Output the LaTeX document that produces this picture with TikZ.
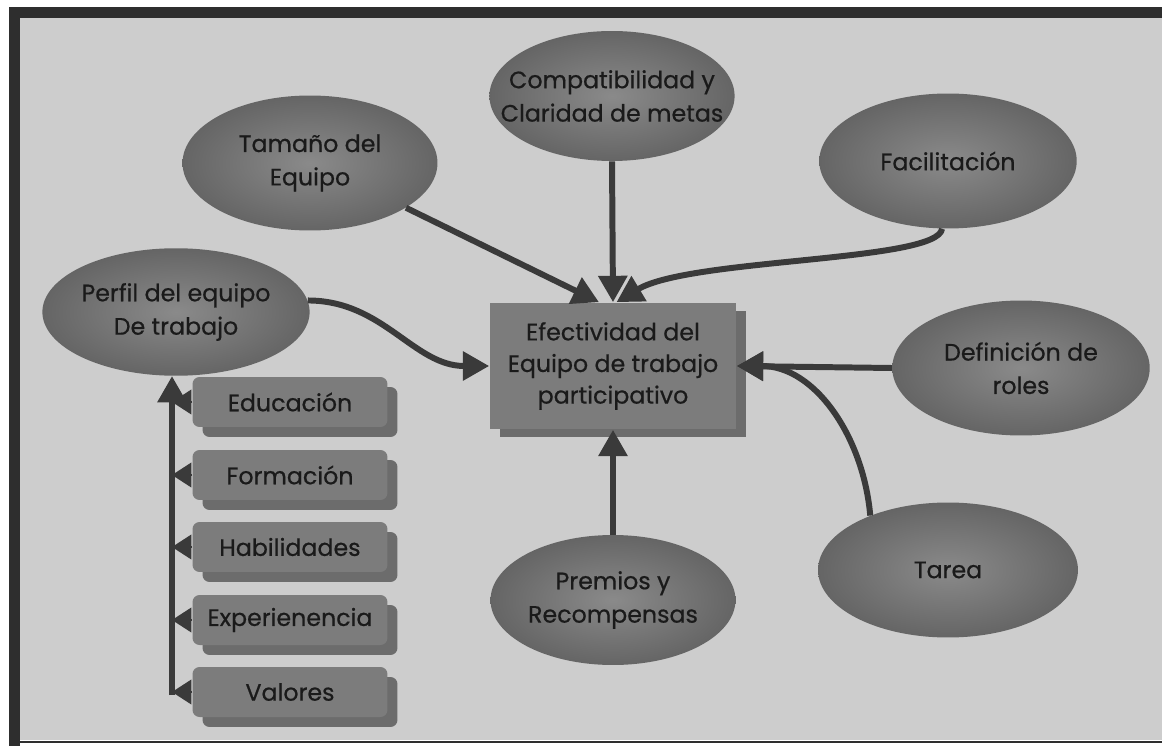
\documentclass[tikz,border=0pt]{standalone}
\usepackage{fontspec}
\setmainfont{Poppins}[FakeBold=0.6]
\usetikzlibrary{shapes.geometric,arrows.meta,shadows}

\definecolor{fondo}{HTML}{CDCDCD}
\definecolor{marco}{HTML}{2E2E2E}
\definecolor{elclaro}{HTML}{8A8A8A}
\definecolor{eloscuro}{HTML}{656565}
\definecolor{cajagris}{HTML}{7C7C7C}
\definecolor{sombragris}{HTML}{6C6C6C}
\definecolor{flecha}{HTML}{3A3A3A}
\definecolor{letra}{HTML}{1A1A1A}

\tikzset{
  idea/.style={ellipse, minimum width=5.1cm, minimum height=2.7cm, inner sep=0pt,
    shade, inner color=elclaro, outer color=eloscuro, text=letra, align=center,
    font=\fontsize{13.5}{19}\selectfont},
  centro/.style={rectangle, minimum width=4.94cm, minimum height=2.54cm, fill=cajagris,
    text=letra, align=center, font=\fontsize{13.5}{18}\selectfont,
    copy shadow={shadow xshift=0.2cm, shadow yshift=-0.16cm, fill=sombragris, draw=none}},
  factor/.style={rectangle, rounded corners=4pt, minimum width=3.9cm, minimum height=1cm,
    fill=cajagris, text=letra, font=\fontsize{13.5}{15}\selectfont,
    copy shadow={shadow xshift=0.2cm, shadow yshift=-0.2cm, fill=sombragris, draw=none}},
  arr/.style={draw=flecha, line width=3.4pt, -{Triangle[width=16pt,length=15pt]}},
  punta/.style={draw=flecha, line width=1pt, -{Triangle[width=14pt,length=11pt]}}
}

\begin{document}
\begin{tikzpicture}[x=0.02cm, y=-0.02cm]
\useasboundingbox (0,0) rectangle (1162,746);
\fill[marco] (9,7) rectangle (1162,18);
\fill[marco] (9,7) rectangle (20,746);
\fill[fondo] (20,18) rectangle (1162,740);
\draw[marco, line width=1pt] (20,742) -- (1162,742);

\node[idea, minimum width=4.9cm, minimum height=2.6cm, inner xsep=-14pt] (compat) at (612,96) {Compatibilidad y\\Claridad de metas};
\node[idea] (tamano) at (310,163) {Tamaño del\\Equipo};
\node[idea, minimum width=5.15cm] (facil) at (948,161) {Facilitación};
\node[idea, minimum width=5.15cm, minimum height=2.55cm] (perfil) at (176,312) {Perfil del equipo\\De trabajo};
\node[idea, minimum width=5.15cm] (defin) at (1021,368) {Definición de\\roles};
\node[idea, minimum width=5.2cm] (tarea) at (948,570) {Tarea};
\node[idea, minimum width=4.9cm, minimum height=2.6cm] (premios) at (613,600) {Premios y\\Recompensas};
\node[centro] (efect) at (613,366) {Efectividad del\\Equipo de trabajo\\participativo};

\coordinate (pie) at (172,695);
\foreach \n/\t/\y in {edu/Educación/402, form/Formación/475, hab/Habilidades/547,
    exp/Experienencia/620, val/Valores/692} {
  \node[factor] (\n) at (290,\y) {\t};
  \draw[punta] (\n.west) -- (\n.west -| pie);
}
\draw[arr] (pie) -- (pie |- perfil.south);

\draw[arr] (tamano.-25) -- ([xshift=-8pt]efect.north);
\draw[arr] (compat.south) -- (efect.north);
\draw[arr] (facil.-95) .. controls (938,262) and (690,258) .. ([xshift=2pt]efect.north);
\draw[arr] (perfil.5) to[out=0, in=180] (efect.west);
\draw[arr] (defin.west) -- (efect.east);
\draw[arr] (tarea.145) to[out=95, in=0] (efect.east);
\draw[arr] (premios.north) -- (efect.south);
\end{tikzpicture}
\end{document}
